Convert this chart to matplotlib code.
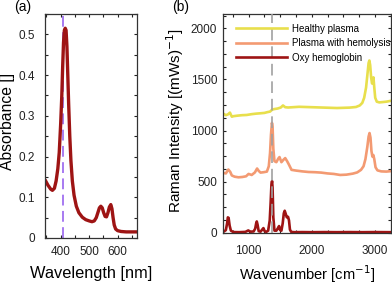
import numpy as np
import matplotlib
matplotlib.use('Agg')
import matplotlib.pyplot as plt
from matplotlib.ticker import MultipleLocator

plt.rcParams['font.family'] = ['Liberation Sans', 'DejaVu Sans']

# (a) absorbance of oxy hemoglobin
wl = [345, 355, 365, 371, 378, 384, 390, 395, 400, 404, 407, 410, 413, 416,
      419, 422, 425, 428, 432, 436, 441, 447, 455, 464, 476, 488, 500, 510,
      518, 525, 531, 536, 541, 546, 551, 556, 561, 566, 571, 576, 580, 584,
      588, 593, 600, 612, 630, 650, 668]
absb = [0.143, 0.13, 0.12, 0.117, 0.122, 0.14, 0.17, 0.21, 0.28, 0.35, 0.42,
        0.48, 0.51, 0.515, 0.51, 0.47, 0.40, 0.33, 0.25, 0.19, 0.14, 0.105,
        0.078, 0.062, 0.051, 0.045, 0.042, 0.040, 0.042, 0.050, 0.063, 0.074,
        0.078, 0.074, 0.062, 0.053, 0.052, 0.062, 0.076, 0.082, 0.072, 0.050,
        0.032, 0.022, 0.018, 0.016, 0.015, 0.015, 0.015]

# (b) Raman spectra
wn_h = [600, 640, 675, 705, 735, 760, 820, 900, 970, 1050, 1120, 1180, 1250,
        1300, 1340, 1375, 1410, 1460, 1510, 1545, 1580, 1625, 1700, 1800, 1900,
        2000, 2100, 2200, 2300, 2400, 2500, 2600, 2700, 2760, 2800, 2830,
        2860, 2880, 2900, 2912, 2925, 2940, 2955, 2965, 2977, 2990, 3005,
        3030, 3070, 3120, 3180, 3250]
healthy = [1165, 1150, 1158, 1175, 1135, 1140, 1145, 1150, 1152, 1160, 1165,
           1168, 1172, 1180, 1185, 1205, 1210, 1215, 1225, 1245, 1228, 1225,
           1228, 1232, 1230, 1228, 1226, 1224, 1222, 1220, 1222, 1224, 1230,
           1245, 1270, 1320, 1420, 1540, 1660, 1685, 1640, 1520, 1460, 1480,
           1520, 1420, 1320, 1282, 1275, 1278, 1282, 1290]

wn_p = [600, 640, 680, 710, 735, 780, 840, 900, 960, 1000, 1050, 1100, 1135,
        1160, 1190, 1240, 1290, 1320, 1340, 1355, 1370, 1380, 1392, 1410,
        1440, 1470, 1490, 1520, 1550, 1580, 1610, 1640, 1680, 1750, 1850,
        1950, 2050, 2150, 2250, 2350, 2450, 2550, 2650, 2720, 2780, 2820,
        2850, 2880, 2900, 2915, 2930, 2945, 2960, 2975, 2990, 3010, 3040,
        3100, 3180, 3250]
plasma = [585, 580, 618, 595, 560, 548, 542, 545, 552, 575, 565, 590, 628,
          605, 588, 592, 598, 650, 780, 960, 1075, 1040, 820, 700, 690, 725,
          740, 690, 712, 730, 700, 665, 615, 608, 600, 594, 592, 588, 580,
          575, 565, 568, 578, 590, 615, 650, 720, 840, 940, 975, 930, 800,
          745, 760, 720, 640, 610, 600, 598, 602]

wn_o = [600, 640, 660, 672, 684, 700, 720, 760, 850, 950, 995, 1030, 1080,
        1105, 1120, 1130, 1142, 1160, 1190, 1215, 1235, 1255, 1280, 1310,
        1335, 1350, 1362, 1372, 1380, 1392, 1410, 1440, 1465, 1483, 1500,
        1520, 1540, 1558, 1572, 1588, 1605, 1625, 1640, 1655, 1675, 1720,
        1850, 2000, 2200, 2400, 2600, 2800, 3000, 3250]
oxy = [8, 25, 90, 150, 145, 70, 20, 6, 5, 8, 22, 10, 12, 40, 90, 110, 80, 15,
       10, 30, 45, 15, 8, 20, 120, 300, 470, 505, 440, 150, 20, 20, 45, 65,
       25, 20, 90, 190, 215, 185, 150, 155, 120, 30, 8, 5, 6, 5, 6, 5, 6, 5,
       6, 5]

c_yel = '#e8df4c'
c_org = '#f39a72'
c_red = '#9e1414'

fig = plt.figure(figsize=(3.92, 2.84), dpi=100)
ax1 = fig.add_axes([45 / 392, 46 / 284, 92 / 392, 224 / 284])
ax2 = fig.add_axes([223.3 / 392, 51.3 / 284, 167.4 / 392, 218.7 / 284])

# --- (a)
ax1.axvline(407, color='#a070f0', lw=1.3, ls=(0, (6, 3)), zorder=1)
ax1.plot(wl, absb, color=c_red, lw=2.4, solid_capstyle='round', zorder=2)
ax1.set_xlim(345, 668)
ax1.set_ylim(0, 0.55)
ax1.xaxis.set_major_locator(MultipleLocator(100))
ax1.xaxis.set_minor_locator(MultipleLocator(50))
ax1.yaxis.set_minor_locator(MultipleLocator(0.05))
ax1.set_yticks([0, 0.1, 0.2, 0.3, 0.4, 0.5])
ax1.set_yticklabels(['0', '0.1', '0.2', '0.3', '0.4', '0.5'])
ax1.set_xlabel('Wavelength [nm]', fontsize=11.8)
ax1.set_ylabel('Absorbance []', fontsize=11.3)
ax1.xaxis.set_label_coords(0.5, -0.125)
ax1.yaxis.set_label_coords(-0.33, 0.52)

# --- (b)
ax2.plot(wn_h, healthy, color=c_yel, lw=1.9, label='Healthy plasma')
ax2.plot(wn_p, plasma, color=c_org, lw=1.9, label='Plasma with hemolysis')
ax2.plot(wn_o, oxy, color=c_red, lw=1.9, label='Oxy hemoglobin')
ax2.axvline(1378, color='#a0a0a0', lw=1.4, ls=(0, (6, 3)), alpha=0.85, zorder=5)
ax2.set_xlim(600, 3250)
ax2.set_ylim(0, 2140)
ax2.xaxis.set_major_locator(MultipleLocator(1000))
ax2.xaxis.set_minor_locator(MultipleLocator(250))
ax2.yaxis.set_major_locator(MultipleLocator(500))
ax2.yaxis.set_minor_locator(MultipleLocator(125))
ax2.set_xlabel('Wavenumber [cm$^{-1}$]', fontsize=10.6)
ax2.set_ylabel('Raman Intensity [(mWs)$^{-1}$]', fontsize=11)
ax2.xaxis.set_label_coords(0.5, -0.14)
ax2.yaxis.set_label_coords(-0.22, 0.515)
ax2.legend(loc='upper left', bbox_to_anchor=(0.074, 0.955), frameon=False,
           fontsize=7, handlelength=5.25, handletextpad=0.5,
           labelspacing=0.45, borderpad=0, borderaxespad=0)

for ax in (ax1, ax2):
    ax.tick_params(which='both', direction='in', top=True, right=True,
                   length=2.5, width=0.8, labelsize=8.5, colors='#222222')
    for s in ax.spines.values():
        s.set_linewidth(0.9)
        s.set_color('#333333')
ax1.tick_params(axis='x', which='major', pad=6)
ax1.tick_params(axis='y', which='major', pad=7)
ax2.tick_params(axis='x', which='major', pad=8.5)
ax2.tick_params(axis='y', which='major', pad=4.5)

fig.text(23 / 392, 1 - 7 / 284, '(a)', fontsize=10, ha='center', va='center')
fig.text(181 / 392, 1 - 7 / 284, '(b)', fontsize=10, ha='center', va='center')

fig.savefig('out.png', dpi=100)
